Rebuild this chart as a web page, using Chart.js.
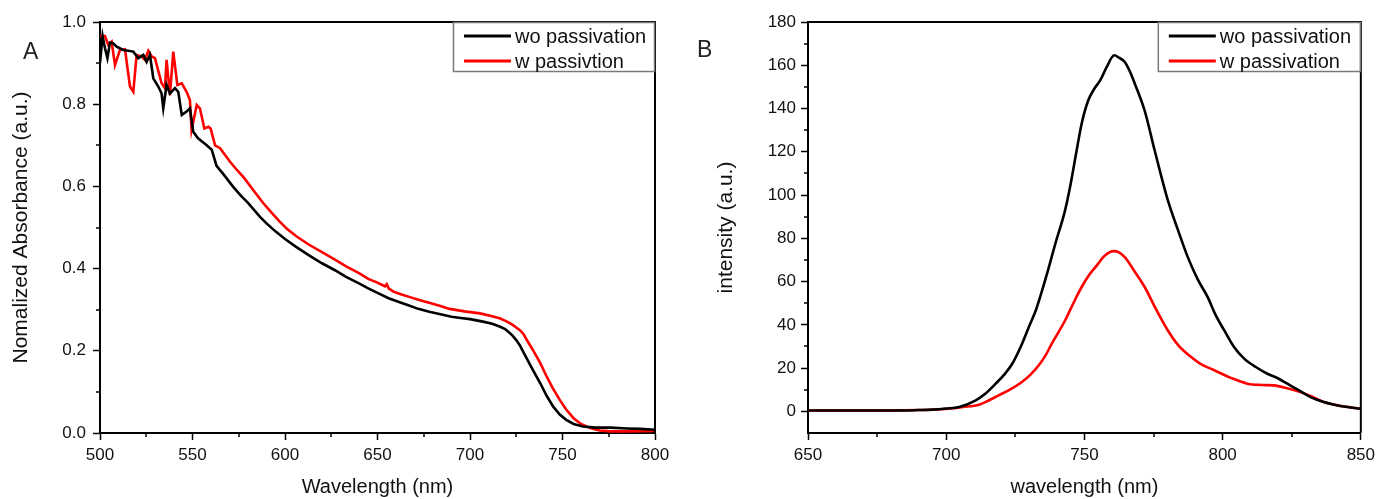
<!DOCTYPE html>
<html>
<head>
<meta charset="utf-8">
<script src="https://cdn.jsdelivr.net/npm/chart.js@4.4.1/dist/chart.umd.min.js"></script>
<style>
  html, body { margin: 0; padding: 0; background: #fff; }
  #wrap { position: relative; width: 1380px; height: 499px; }
  canvas { position: absolute; top: 0; }
  #cA { left: 0; }
  #cB { left: 690px; }
</style>
</head>
<body>
<div id="wrap">
  <canvas id="cA" width="690" height="499"></canvas>
  <canvas id="cB" width="690" height="499"></canvas>
</div>
<script>
// ---------- Panel A: absorbance ----------
const absLabels = ['wo passivation', 'w passivtion'];
const absWoX = [500, 501.4, 502.7, 504, 505.4, 507.2, 509, 512.6, 518, 520.7, 523.4, 525.2, 527, 528.8, 531.5, 533.3, 534.2, 536, 537.8, 540.5, 542.3, 544.2, 546.8, 548.6, 550.4, 553, 557.7, 560.4, 563, 567, 572, 576, 580, 586.5, 590, 595, 600, 606, 613, 620, 627, 633, 640, 645, 650, 656, 662, 667, 672, 678, 684, 690, 695, 700, 707, 712, 716, 719, 721, 723, 725, 727, 728.5, 730, 732, 735, 738, 741.5, 745, 748.5, 752, 756, 761, 768, 776, 785, 792, 800];
const absWoY = [0.900, 0.966, 0.936, 0.912, 0.950, 0.948, 0.940, 0.932, 0.928, 0.912, 0.920, 0.903, 0.920, 0.863, 0.843, 0.826, 0.790, 0.847, 0.826, 0.839, 0.830, 0.774, 0.782, 0.790, 0.733, 0.717, 0.700, 0.689, 0.650, 0.628, 0.599, 0.578, 0.560, 0.526, 0.510, 0.490, 0.472, 0.453, 0.432, 0.413, 0.396, 0.380, 0.364, 0.352, 0.341, 0.328, 0.318, 0.310, 0.302, 0.295, 0.289, 0.283, 0.280, 0.277, 0.271, 0.266, 0.259, 0.253, 0.245, 0.237, 0.226, 0.213, 0.200, 0.187, 0.170, 0.145, 0.121, 0.090, 0.064, 0.045, 0.032, 0.022, 0.016, 0.013, 0.013, 0.011, 0.010, 0.008];
const absWX = [500, 502.7, 504.5, 506.3, 508.1, 510.8, 513.5, 516.2, 518, 519.8, 522.5, 524.3, 526.1, 527.9, 529.7, 533.3, 535.1, 536, 537.8, 539.6, 541.8, 544.2, 546.8, 548.6, 549.5, 552.3, 554, 556.4, 558.6, 559.8, 562.2, 564.9, 570.3, 574, 578, 583, 588.3, 592, 597, 601, 606.3, 613, 620, 627, 633.3, 640, 645, 650, 654, 655, 656, 658.6, 663, 668, 673, 678.4, 684, 689, 697, 705.4, 712, 716, 720, 722, 724, 725.5, 727, 729, 730.5, 734, 738, 741.5, 745, 748.6, 752, 756, 760, 765, 770, 776, 785, 800];
const absWY = [0.966, 0.966, 0.944, 0.952, 0.895, 0.932, 0.934, 0.843, 0.830, 0.920, 0.916, 0.908, 0.930, 0.916, 0.912, 0.851, 0.839, 0.908, 0.822, 0.928, 0.847, 0.851, 0.830, 0.810, 0.737, 0.798, 0.790, 0.741, 0.745, 0.741, 0.700, 0.693, 0.660, 0.640, 0.620, 0.590, 0.559, 0.540, 0.515, 0.497, 0.478, 0.458, 0.440, 0.422, 0.405, 0.389, 0.375, 0.366, 0.357, 0.362, 0.352, 0.344, 0.337, 0.330, 0.323, 0.316, 0.309, 0.302, 0.296, 0.291, 0.284, 0.279, 0.271, 0.266, 0.260, 0.255, 0.250, 0.240, 0.228, 0.202, 0.170, 0.137, 0.107, 0.080, 0.057, 0.036, 0.022, 0.012, 0.006, 0.004, 0.004, 0.005];

// ---------- Panel B: PL intensity ----------
const plLabels = ['wo passivation', 'w passivation'];
const plWoX = [650, 670, 682, 690, 695, 700, 704.7, 710.7, 714, 717.9, 721, 723.9, 727, 729.9, 732.5, 734.7, 737, 739.5, 743, 745, 747.2, 749, 751.4, 753.5, 755.7, 758, 760.8, 762.5, 764.6, 766.5, 768.2, 771.8, 775.4, 780.2, 783.8, 787.4, 791, 794.6, 797.5, 800.6, 804, 807.8, 812, 816.2, 820, 823.4, 827.5, 831.8, 836.6, 840, 845, 850];
const plWoY = [0.4, 0.4, 0.4, 0.6, 0.8, 1.3, 2, 5.1, 8, 12.8, 17, 22, 30, 39, 47, 55.9, 66, 77.6, 92.9, 105, 120.7, 133, 143.8, 149, 153, 159, 164.6, 163.5, 161.5, 157, 151.6, 139, 120.7, 97.5, 84, 71.3, 61, 52.8, 44.5, 37.4, 30, 24.4, 20.5, 17.4, 15.3, 12.8, 9.8, 6.6, 4.3, 3.2, 2, 1.2];
const plWX = [650, 680, 690, 701, 706, 711.9, 715, 719, 723, 727.4, 730.5, 733.5, 736, 738.2, 743, 746, 749, 752, 754.5, 756.8, 759, 760.7, 762.5, 764.6, 768, 771.8, 776, 780.2, 784, 788.6, 792, 797, 803, 809, 814, 818.6, 823, 828.2, 832, 836.6, 842, 849.8];
const plWY = [0.4, 0.4, 0.6, 1.2, 2, 3.1, 4.8, 7.4, 10, 13.6, 17, 21.3, 26, 31.3, 42, 50, 57.5, 63.6, 67.5, 71.3, 73.5, 74.1, 73.5, 71.3, 65, 57.5, 47, 37.4, 30.5, 25.1, 22, 19, 15.5, 12.8, 12.2, 12, 10.8, 8.9, 7, 4.3, 2.7, 1.2];

const FONT = '"Liberation Sans", Arial, sans-serif';
Chart.defaults.font.family = FONT;
Chart.defaults.color = '#111';

function pts(xs, ys) { return xs.map((x, i) => ({ x: x, y: ys[i] })); }

// decoration plugin: frame, minor ticks, boxed legend, panel letter
const deco = {
  id: 'deco',
  afterDraw(chart, args, opts) {
    const ctx = chart.ctx;
    const a = chart.chartArea;
    ctx.save();
    ctx.strokeStyle = '#000';
    ctx.lineWidth = 2;
    ctx.beginPath();
    ctx.moveTo(a.left, a.top);
    ctx.lineTo(a.right, a.top);
    ctx.lineTo(a.right, a.bottom);
    ctx.stroke();
    ctx.lineWidth = 1.5;
    const xs = chart.scales.x, ys = chart.scales.y;
    const xt = xs.ticks.map(t => t.value);
    for (let i = 0; i < xt.length - 1; i++) {
      const px = Math.round(xs.getPixelForValue((xt[i] + xt[i + 1]) / 2));
      ctx.beginPath(); ctx.moveTo(px, a.bottom); ctx.lineTo(px, a.bottom + 4); ctx.stroke();
    }
    const yt = ys.ticks.map(t => t.value);
    for (let i = 0; i < yt.length - 1; i++) {
      const py = Math.round(ys.getPixelForValue((yt[i] + yt[i + 1]) / 2));
      ctx.beginPath(); ctx.moveTo(a.left, py); ctx.lineTo(a.left - 4, py); ctx.stroke();
    }
    const W = opts.legendWidth, H = 50;
    const x0 = a.right - W, y0 = a.top;
    ctx.fillStyle = '#fff';
    ctx.fillRect(x0, y0, W, H);
    ctx.strokeStyle = '#7a7a7a';
    ctx.lineWidth = 1.5;
    ctx.strokeRect(x0 + 0.5, y0 + 0.5, W - 1, H - 1);
    ctx.font = '20px ' + FONT;
    ctx.textBaseline = 'middle';
    ctx.textAlign = 'left';
    chart.data.datasets.forEach((ds, i) => {
      const yy = y0 + 14 + i * 25;
      ctx.strokeStyle = ds.borderColor;
      ctx.lineWidth = 3;
      ctx.beginPath(); ctx.moveTo(x0 + 11, yy); ctx.lineTo(x0 + 58, yy); ctx.stroke();
      ctx.fillStyle = '#111';
      ctx.fillText(ds.label, x0 + 62, yy + 1);
    });
    ctx.font = '23px ' + FONT;
    ctx.fillStyle = '#222';
    ctx.textBaseline = 'alphabetic';
    ctx.fillText(opts.letter, opts.letterX, opts.letterY);
    ctx.restore();
  }
};

function axisCommon() {
  return {
    grid: { drawOnChartArea: false, drawTicks: true, tickLength: 7, tickWidth: 1.5, tickColor: '#000' },
    border: { display: true, color: '#000', width: 2 }
  };
}

function makeChart(id, cfg) {
  return new Chart(document.getElementById(id), {
    type: 'line',
    data: {
      datasets: cfg.series.map(s => ({
        label: s.label,
        data: pts(s.x, s.y),
        borderColor: s.color,
        backgroundColor: s.color,
        borderWidth: 2.6,
        pointRadius: 0,
        tension: cfg.tension,
        cubicInterpolationMode: cfg.interp,
        fill: false
      }))
    },
    options: {
      responsive: false,
      animation: false,
      layout: { padding: cfg.padding },
      plugins: {
        legend: { display: false },
        tooltip: { enabled: false },
        deco: cfg.deco
      },
      scales: {
        x: Object.assign(axisCommon(), {
          type: 'linear',
          min: cfg.xMin, max: cfg.xMax,
          ticks: { stepSize: cfg.xStep, padding: 5, font: { size: 17 }, color: '#111', maxRotation: 0 },
          title: { display: true, text: cfg.xTitle, font: { size: 20 }, color: '#111', padding: { top: 0, bottom: 0 } },
          afterFit: s => { s.height = cfg.xHeight; }
        }),
        y: Object.assign(axisCommon(), {
          type: 'linear',
          min: cfg.yMin, max: cfg.yMax,
          ticks: { stepSize: cfg.yStep, padding: cfg.yPad, font: { size: 17 }, color: '#111', callback: cfg.yFmt },
          title: { display: true, text: cfg.yTitle, font: { size: 21 }, color: '#111', padding: { top: cfg.yTitlePad, bottom: 0 } },
          afterBuildTicks: s => { s.ticks = s.ticks.filter(t => t.value >= 0); },
          afterFit: s => { s.width = cfg.yWidth; }
        })
      }
    },
    plugins: [deco]
  });
}

makeChart('cA', {
  series: [
    { label: absLabels[0], x: absWoX, y: absWoY, color: '#000000' },
    { label: absLabels[1], x: absWX, y: absWY, color: '#ff0000' }
  ],
  tension: 0, interp: 'default',
  padding: { top: 22, right: 35, left: 0, bottom: 0 },
  xMin: 500, xMax: 800, xStep: 50,
  yMin: 0, yMax: 1, yStep: 0.2, yPad: 7,
  yFmt: v => Number(v).toFixed(1),
  xTitle: 'Wavelength (nm)',
  yTitle: 'Nomalized Absorbance (a.u.)',
  yTitlePad: 9,
  xHeight: 66, yWidth: 100,
  deco: { legendWidth: 202, letter: 'A', letterX: 23, letterY: 59 }
});

makeChart('cB', {
  series: [
    { label: plLabels[0], x: plWoX, y: plWoY, color: '#000000' },
    { label: plLabels[1], x: plWX, y: plWY, color: '#ff0000' }
  ],
  tension: 0.4, interp: 'monotone',
  padding: { top: 22, right: 16, left: 0, bottom: 0 },
  xMin: 650, xMax: 850, xStep: 50,
  yMin: -10, yMax: 180, yStep: 20, yPad: 5,
  yFmt: v => String(v),
  xTitle: 'wavelength (nm)',
  yTitle: 'intensity (a.u.)',
  yTitlePad: 24,
  xHeight: 66, yWidth: 118,
  deco: { legendWidth: 203, letter: 'B', letterX: 7, letterY: 57 }
});
</script>
</body>
</html>
